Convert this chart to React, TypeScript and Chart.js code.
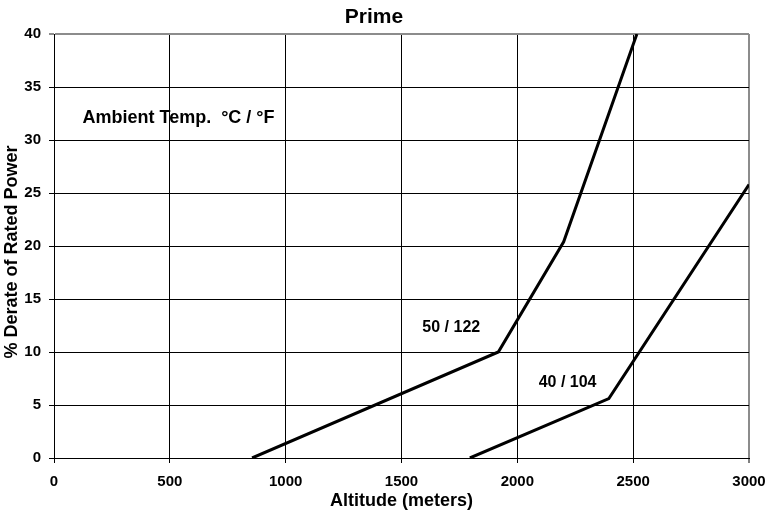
import React, { useEffect, useRef } from "react";
import { Chart, registerables } from "chart.js";

Chart.register(...registerables);

// ---- data ----
const altitude50 = [855, 1918, 2200, 2516];
const derate50 = [0, 10, 20.4, 40];
const altitude40 = [1795, 2395, 3000];
const derate40 = [0, 5.6, 25.8];
const xTickValues = [0, 500, 1000, 1500, 2000, 2500, 3000];
const yTickValues = [0, 5, 10, 15, 20, 25, 30, 35, 40];
const seriesNames = ["50 / 122", "40 / 104"];
const chartTitle = "Prime";
const legendTitle = "Ambient Temp.  °C / °F";
const xTitle = "Altitude (meters)";
const yTitle = "% Derate of Rated Power";

const FONT = "Arial, 'Liberation Sans', Helvetica, sans-serif";

export default function App() {
  const ref = useRef<HTMLCanvasElement>(null);

  useEffect(() => {
    const canvas = ref.current;
    if (!canvas) return;

    const textPlugin = {
      id: "textPlugin",
      afterDraw(chart: any) {
        const ctx = chart.ctx;
        const xs = chart.scales.x;
        const ys = chart.scales.y;
        ctx.save();
        ctx.fillStyle = "#000";
        ctx.textBaseline = "alphabetic";
        // chart title
        ctx.font = `bold 21px ${FONT}`;
        ctx.textAlign = "center";
        ctx.fillText(chartTitle, 374, 23);
        // y axis title
        ctx.save();
        ctx.translate(17, 252);
        ctx.rotate(-Math.PI / 2);
        ctx.font = `bold 18px ${FONT}`;
        ctx.textAlign = "center";
        ctx.fillText(yTitle, 0, 0);
        ctx.restore();
        // annotations (anchored in data coordinates)
        ctx.textAlign = "left";
        ctx.font = `bold 18px ${FONT}`;
        ctx.fillText(legendTitle, xs.getPixelForValue(123), ys.getPixelForValue(31.6));
        ctx.font = `bold 16px ${FONT}`;
        ctx.fillText(seriesNames[0], xs.getPixelForValue(1590), ys.getPixelForValue(11.9));
        ctx.fillText(seriesNames[1], xs.getPixelForValue(2092), ys.getPixelForValue(6.7));
        ctx.restore();
      },
    };

    const chart = new Chart(canvas, {
      type: "scatter",
      data: {
        datasets: [
          {
            label: seriesNames[0],
            data: altitude50.map((x, i) => ({ x, y: derate50[i] })),
            showLine: true,
            borderColor: "#000",
            backgroundColor: "#000",
            borderWidth: 3,
            pointRadius: 0,
            tension: 0,
            fill: false,
          },
          {
            label: seriesNames[1],
            data: altitude40.map((x, i) => ({ x, y: derate40[i] })),
            showLine: true,
            borderColor: "#000",
            backgroundColor: "#000",
            borderWidth: 3,
            pointRadius: 0,
            tension: 0,
            fill: false,
          },
        ],
      },
      options: {
        animation: false,
        responsive: false,
        maintainAspectRatio: false,
        layout: { padding: { top: 34, right: 17, left: 0, bottom: 0 } },
        plugins: {
          legend: { display: false },
          tooltip: { enabled: false },
          title: { display: false },
        },
        scales: {
          x: {
            type: "linear",
            min: 0,
            max: 3000,
            afterBuildTicks: (s: any) => {
              s.ticks = xTickValues.map((v) => ({ value: v }));
            },
            afterFit: (s: any) => {
              s.height = 56;
              s.paddingLeft = 0;
              s.paddingRight = 0;
            },
            grid: {
              color: (c: any) => (c.tick && c.tick.value === 3000 ? "#8c8c8c" : "#000"),
              lineWidth: (c: any) => (c.tick && c.tick.value === 3000 ? 2 : 1),
              tickColor: "#000",
              tickWidth: 1,
              tickLength: 5,
              drawTicks: true,
            },
            border: { display: true, color: "#000", width: 1 },
            ticks: {
              color: "#000",
              padding: 10,
              font: { family: FONT, size: 15, weight: "bold" },
              maxRotation: 0,
              callback: (v: any) => String(v),
            },
            title: {
              display: true,
              text: xTitle,
              color: "#000",
              font: { family: FONT, size: 18, weight: "bold", lineHeight: 1.2 },
              padding: { top: 0, bottom: 2.5 },
            },
          },
          y: {
            type: "linear",
            min: 0,
            max: 40,
            afterBuildTicks: (s: any) => {
              s.ticks = yTickValues.map((v) => ({ value: v }));
            },
            afterFit: (s: any) => {
              s.width = 54;
              s.paddingTop = 0;
              s.paddingBottom = 0;
            },
            grid: {
              color: (c: any) => (c.tick && c.tick.value === 40 ? "#8c8c8c" : "#000"),
              lineWidth: (c: any) => (c.tick && c.tick.value === 40 ? 2 : 1),
              tickLength: 5,
              drawTicks: true,
            },
            border: { display: true, color: "#000", width: 1 },
            ticks: {
              color: "#000",
              padding: 8,
              font: { family: FONT, size: 15, weight: "bold" },
              callback: (v: any) => String(v),
            },
            title: { display: false, text: yTitle },
          },
        },
      },
      plugins: [textPlugin],
    } as any);

    return () => chart.destroy();
  }, []);

  return (
    <div style={{ position: "absolute", left: 0, top: 0, width: 766, height: 514, background: "#fff" }}>
      <canvas ref={ref} width={766} height={514} style={{ width: 766, height: 514, display: "block" }} />
    </div>
  );
}
